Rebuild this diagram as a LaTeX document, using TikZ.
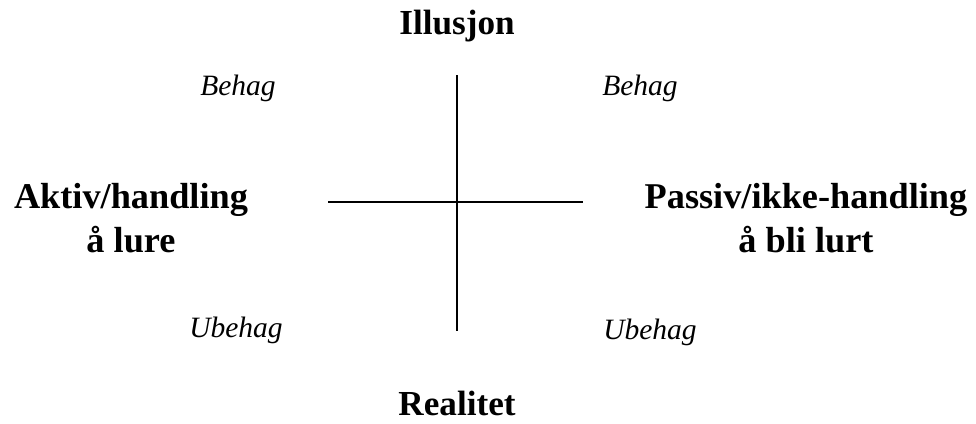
\documentclass[tikz,border=0pt]{standalone}
\usepackage{fontspec}
\setmainfont{Liberation Serif}
\usetikzlibrary{positioning}

\begin{document}
\begin{tikzpicture}[x=0.025cm, y=-0.025cm,
  axis/.style={line width=1.7pt},
  pole/.style={font=\fontsize{25}{31}\selectfont\bfseries, align=center},
  side/.style={pole, font=\fontsize{25.8}{31}\selectfont\bfseries},
  feel/.style={font=\fontsize{21}{25}\selectfont\itshape}]
\useasboundingbox (0,0) rectangle (976,423);
\coordinate (top) at (457,75);
\coordinate (bot) at (457,331);
\coordinate (lft) at (328,202);
\coordinate (rgt) at (583,202);
\node[pole] (ill) at (457,26) {Illusjon};
\node[pole] (real) at (457,403) {Realitet};
\node[side] (akt) at (131,218) {Aktiv/handling\\ å lure};
\node[side] (pas) at (806,218) {Passiv/ikke-handling\\ å bli lurt};
\node[feel] (b1) at (238,88) {Behag};
\node[feel] (b2) at (640,88) {Behag};
\node[feel] (u1) at (236,330) {Ubehag};
\node[feel] (u2) at (650,332) {Ubehag};
\draw[axis] (top) -- (bot);
\draw[axis] (lft) -- (rgt);
\end{tikzpicture}
\end{document}
